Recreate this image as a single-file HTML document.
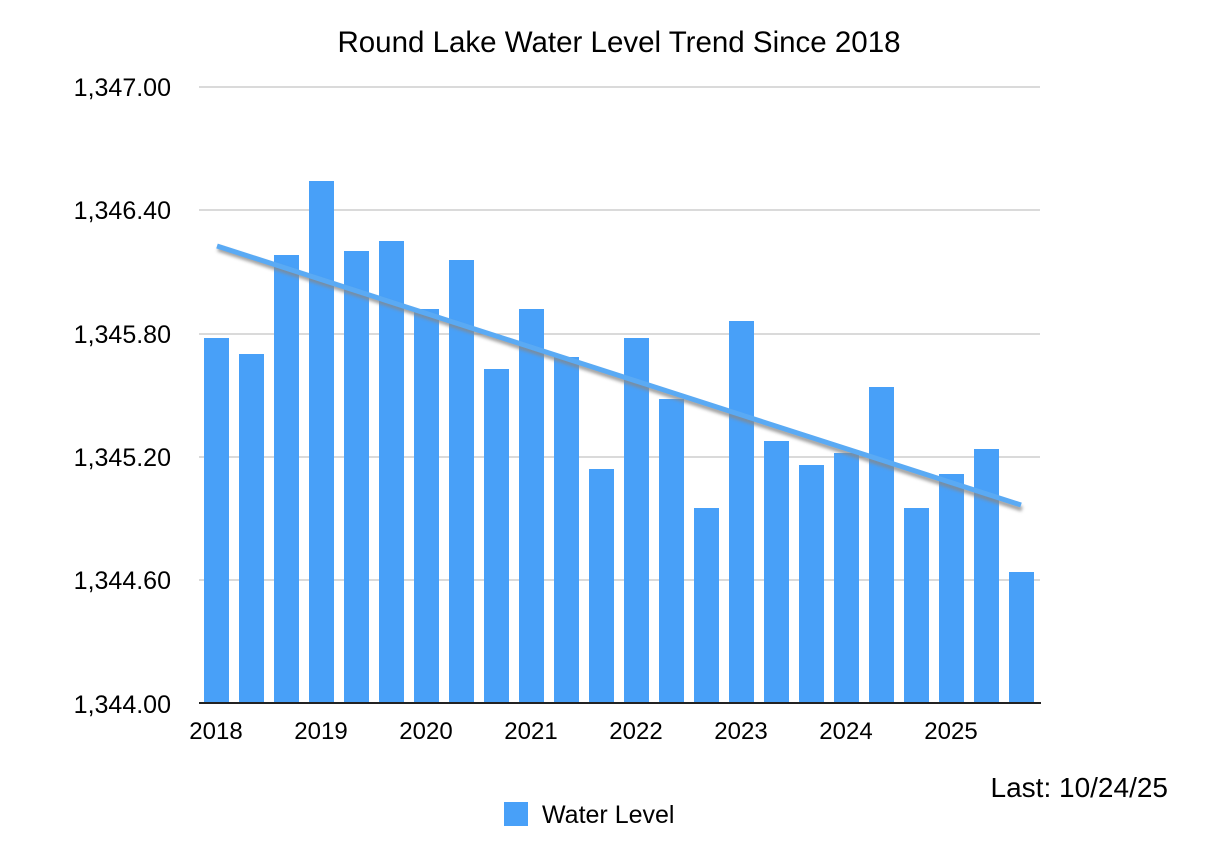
<!DOCTYPE html>
<html><head><meta charset="utf-8"><style>
html,body{margin:0;padding:0;background:#fff;}
svg{display:block;font-family:"Liberation Sans",Arial,sans-serif;}
</style></head><body>
<svg width="1232" height="858" viewBox="0 0 1232 858">
<defs><filter id="sh" x="-10%" y="-50%" width="120%" height="200%"><feGaussianBlur stdDeviation="1.5"/></filter></defs>
<text x="619" y="52" font-size="29.5" text-anchor="middle" fill="#000">Round Lake Water Level Trend Since 2018</text>
<g stroke="#c4c4c4" stroke-width="1.3">
<line x1="199" y1="87" x2="1040" y2="87"/>
<line x1="199" y1="210" x2="1040" y2="210"/>
<line x1="199" y1="334" x2="1040" y2="334"/>
<line x1="199" y1="457" x2="1040" y2="457"/>
<line x1="199" y1="580" x2="1040" y2="580"/>
</g>
<g font-size="25" text-anchor="end" fill="#000">
<text x="171" y="96">1,347.00</text>
<text x="171" y="219">1,346.40</text>
<text x="171" y="343">1,345.80</text>
<text x="171" y="466">1,345.20</text>
<text x="171" y="589">1,344.60</text>
<text x="171" y="713">1,344.00</text>
</g>
<g fill="#48a0f8">
<rect x="204" y="338" width="25" height="365"/>
<rect x="239" y="354" width="25" height="349"/>
<rect x="274" y="255" width="25" height="448"/>
<rect x="309" y="181" width="25" height="522"/>
<rect x="344" y="251" width="25" height="452"/>
<rect x="379" y="241" width="25" height="462"/>
<rect x="414" y="309" width="25" height="394"/>
<rect x="449" y="260" width="25" height="443"/>
<rect x="484" y="369" width="25" height="334"/>
<rect x="519" y="309" width="25" height="394"/>
<rect x="554" y="357" width="25" height="346"/>
<rect x="589" y="469" width="25" height="234"/>
<rect x="624" y="338" width="25" height="365"/>
<rect x="659" y="399" width="25" height="304"/>
<rect x="694" y="508" width="25" height="195"/>
<rect x="729" y="321" width="25" height="382"/>
<rect x="764" y="441" width="25" height="262"/>
<rect x="799" y="465" width="25" height="238"/>
<rect x="834" y="453" width="25" height="250"/>
<rect x="869" y="387" width="25" height="316"/>
<rect x="904" y="508" width="25" height="195"/>
<rect x="939" y="474" width="25" height="229"/>
<rect x="974" y="449" width="25" height="254"/>
<rect x="1009" y="572" width="25" height="131"/>
</g>
<line x1="199" y1="703" x2="1041" y2="703" stroke="#222" stroke-width="2"/>
<line x1="218" y1="249" x2="1022" y2="509" stroke="#888" stroke-width="5" filter="url(#sh)" opacity="0.8"/>
<line x1="217" y1="246" x2="1021" y2="505" stroke="#5aaaf4" stroke-width="5"/>
<g font-size="24" text-anchor="middle" fill="#000">
<text x="216" y="739">2018</text>
<text x="321" y="739">2019</text>
<text x="426" y="739">2020</text>
<text x="531" y="739">2021</text>
<text x="636" y="739">2022</text>
<text x="741" y="739">2023</text>
<text x="846" y="739">2024</text>
<text x="951" y="739">2025</text>
</g>
<text x="1168" y="797" font-size="28" text-anchor="end" fill="#000">Last: 10/24/25</text>
<rect x="504" y="802" width="24" height="24" fill="#48a0f8"/>
<text x="542" y="823" font-size="25" fill="#000">Water Level</text>
</svg>
</body></html>
